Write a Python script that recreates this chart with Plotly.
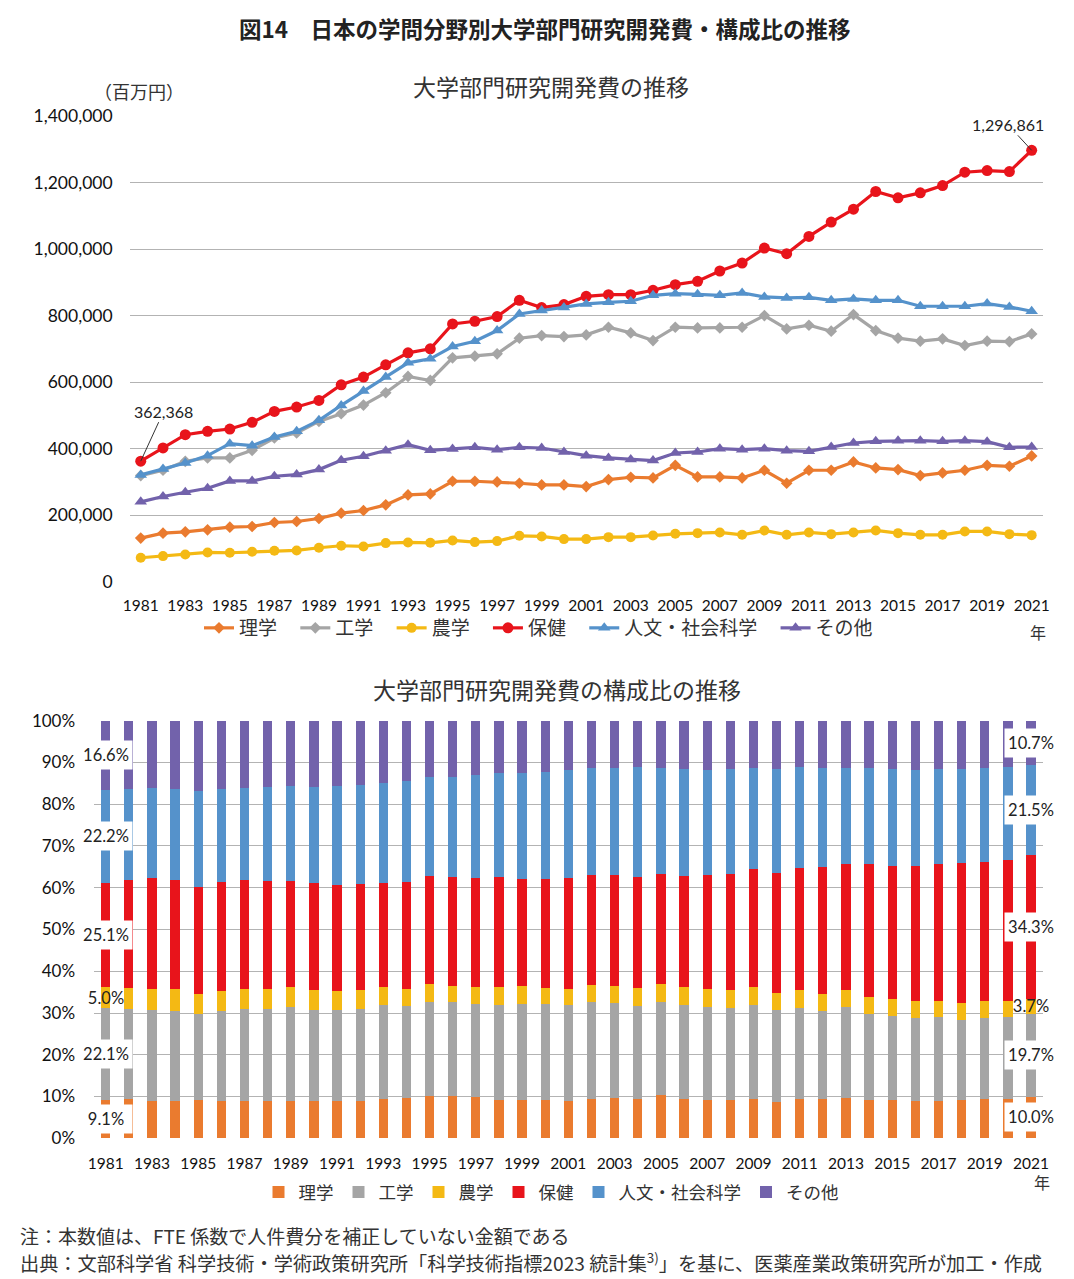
import plotly.graph_objects as go

years = list(range(1981, 2022))

rigaku = [131000, 146000, 150000, 156000, 164000, 166000, 178000, 181000, 190000, 206000,
          214000, 231000, 261000, 264000, 302000, 302000, 300000, 296000, 291000, 291000,
          286000, 307000, 314000, 312000, 350000, 315000, 315000, 312000, 335000, 296000,
          335000, 335000, 360000, 342000, 337000, 319000, 327000, 335000, 350000, 347000, 378000]
kougaku = [319000, 335000, 362000, 372000, 372000, 395000, 432000, 447000, 482000, 505000,
           531000, 568000, 617000, 605000, 673000, 678000, 685000, 732000, 740000, 737000,
           742000, 765000, 748000, 725000, 765000, 763000, 763000, 765000, 800000, 760000,
           771000, 753000, 803000, 755000, 732000, 723000, 730000, 710000, 723000, 722000, 745000]
nougaku = [72000, 77000, 82000, 88000, 87000, 90000, 93000, 94000, 102000, 108000,
           106000, 116000, 118000, 117000, 124000, 119000, 122000, 138000, 136000, 128000,
           128000, 134000, 134000, 139000, 144000, 146000, 148000, 141000, 154000, 141000,
           148000, 143000, 148000, 154000, 146000, 141000, 141000, 151000, 151000, 143000, 140000]
hoken = [362368, 402000, 442000, 452000, 459000, 479000, 512000, 525000, 545000, 592000,
         615000, 652000, 688000, 700000, 775000, 783000, 797000, 846000, 824000, 833000,
         858000, 863000, 863000, 876000, 893000, 903000, 934000, 958000, 1003000, 986000,
         1038000, 1081000, 1120000, 1173000, 1154000, 1169000, 1191000, 1231000, 1236000, 1233000, 1296861]
jinbun = [321000, 339000, 357000, 379000, 415000, 409000, 435000, 452000, 485000, 530000,
          573000, 615000, 658000, 670000, 707000, 723000, 755000, 805000, 815000, 824000,
          835000, 840000, 843000, 861000, 866000, 864000, 861000, 868000, 856000, 853000,
          855000, 846000, 850000, 846000, 846000, 828000, 828000, 828000, 836000, 826000, 813000]
sonota = [240000, 256000, 269000, 281000, 303000, 303000, 317000, 322000, 337000, 365000,
          377000, 394000, 412000, 395000, 399000, 404000, 397000, 404000, 402000, 390000,
          379000, 372000, 367000, 364000, 387000, 390000, 400000, 397000, 400000, 394000,
          392000, 405000, 417000, 422000, 424000, 424000, 422000, 424000, 421000, 404000, 405000]

names = ["理学", "工学", "農学", "保健", "人文・社会科学", "その他"]
series = [rigaku, kougaku, nougaku, hoken, jinbun, sonota]
colors = ["#EA7B2F", "#A5A5A5", "#F4B914", "#E8141B", "#5592CB", "#7262AB"]
symbols = ["diamond", "diamond", "circle", "circle", "triangle-up", "triangle-up"]
msizes = [9, 9, 10, 11, 11, 11]

ytick_top = [0, 200000, 400000, 600000, 800000, 1000000, 1200000, 1400000]
xtick_years = list(range(1981, 2022, 2))

NUM = "Lato, 'Noto Sans CJK JP', sans-serif"
JP = "'Noto Sans CJK JP', sans-serif"
W, H = 1074, 1279
PAD = "\u2002\u2009"

def px_x(x):
    return x / W

def px_y(y):
    return 1 - y / H

fig = go.Figure()

for n, s, c, sym, ms in zip(names, series, colors, symbols, msizes):
    fig.add_trace(go.Scatter(
        x=years, y=s, name=n + PAD, mode="lines+markers",
        line=dict(color=c, width=3.2),
        marker=dict(color=c, symbol=sym, size=ms, line=dict(width=0)),
        xaxis="x", yaxis="y", legend="legend"))

for n, s, c in zip(names, series, colors):
    fig.add_trace(go.Bar(
        x=years, y=s, name=n, marker=dict(color=c, line=dict(width=0)),
        xaxis="x2", yaxis="y2", legend="legend2"))

axis_common = dict(showline=False, zeroline=False, automargin=False, fixedrange=True)

fig.update_layout(
    width=W, height=H,
    margin=dict(l=0, r=0, t=0, b=0),
    paper_bgcolor="white", plot_bgcolor="white",
    barmode="stack", barnorm="percent", bargap=0.6,
    font=dict(family=NUM, color="#1a1a1a"),
    xaxis=dict(domain=[px_x(129.6), px_x(1042.8)], anchor="y", range=[1980.5, 2021.5],
               tickvals=xtick_years, ticktext=[str(v) for v in xtick_years],
               showgrid=False, ticks="", ticklabelstandoff=13,
               tickfont=dict(size=15.5, family=NUM, color="#111111"), **axis_common),
    yaxis=dict(domain=[px_y(581.7), px_y(116)], anchor="x", range=[0, 1400000],
               tickvals=ytick_top, tickformat=",d", showgrid=True, gridcolor="#B3B3B3",
               gridwidth=1, ticks="", ticklabelstandoff=16,
               tickfont=dict(size=17.5, family=NUM, color="#111111"), **axis_common),
    xaxis2=dict(domain=[px_x(94.1), px_x(1042.6)], anchor="y2", range=[1980.5, 2021.5],
                tickvals=xtick_years, ticktext=[str(v) for v in xtick_years],
                showgrid=False, ticks="", ticklabelstandoff=14,
                tickfont=dict(size=15.5, family=NUM, color="#111111"), **axis_common),
    yaxis2=dict(domain=[px_y(1138.3), px_y(720.7)], anchor="x2", range=[0, 100],
                dtick=10, ticksuffix="%", showgrid=True, gridcolor="#B3B3B3",
                gridwidth=1, ticks="", ticklabelstandoff=18,
                tickfont=dict(size=17, family=NUM, color="#111111"), **axis_common),
    legend=dict(orientation="h", xanchor="center", yanchor="middle",
                x=px_x(545), y=px_y(628), font=dict(size=19, family=JP, color="#333333"),
                itemwidth=30, tracegroupgap=0, bgcolor="rgba(0,0,0,0)"),
    legend2=dict(orientation="h", xanchor="center", yanchor="middle",
                 x=px_x(551), y=px_y(1192), font=dict(size=17.5, family=JP, color="#333333"),
                 itemwidth=30, traceorder="normal", bgcolor="rgba(0,0,0,0)"),
    showlegend=True,
)

def note(text, x, y, size, color="#333333", xanchor="center", family=JP):
    return dict(text=text, x=px_x(x), y=px_y(y), xref="paper", yref="paper",
                xanchor=xanchor, yanchor="middle", showarrow=False,
                font=dict(size=size, family=family, color=color))

ann = []
ann.append(note("<b>図14　日本の学問分野別大学部門研究開発費・構成比の推移</b>", 545, 28, 22.5, "#222222"))
ann.append(note("大学部門研究開発費の推移", 551, 86, 23))
ann.append(note("（百万円）", 139, 91, 18))
ann.append(note("大学部門研究開発費の構成比の推移", 557, 689, 23))
ann.append(note("年", 1038, 632, 16))
ann.append(note("年", 1042, 1182, 16))
ann.append(note("注：本数値は、FTE 係数で人件費分を補正していない金額である", 18, 1235, 19, xanchor="left"))
ann.append(note("出典：文部科学省 科学技術・学術政策研究所「科学技術指標2023 統計集<sup>3)</sup>」を基に、医薬産業政策研究所が加工・作成",
                18, 1262, 19.2, xanchor="left"))

# value callouts on the line chart
ann.append(dict(text=f"{hoken[0]:,}", x=years[0], y=hoken[0], xref="x", yref="y",
                showarrow=True, arrowhead=0, arrowwidth=1, arrowcolor="#333333",
                ax=23, ay=-50, font=dict(size=16, family=NUM, color="#222222")))
ann.append(dict(text=f"{hoken[-1]:,}", x=years[-1], y=hoken[-1], xref="x", yref="y",
                showarrow=True, arrowhead=0, arrowwidth=1, arrowcolor="#333333",
                ax=-24, ay=-26, font=dict(size=16, family=NUM, color="#222222")))

# percentage labels on first and last bars
for idx in (0, len(years) - 1):
    total = sum(s[idx] for s in series)
    cum = 0.0
    for k, s in enumerate(series):
        pct = s[idx] / total * 100
        mid = cum + pct / 2
        cum += pct
        small = pct < 8
        ann.append(dict(text=f"{pct:.1f}%", x=years[idx], y=mid, xref="x2", yref="y2",
                        xanchor="center", yanchor="middle",
                        showarrow=False, width=48, height=24, borderpad=2,
                        bgcolor="rgba(0,0,0,0)" if small else "white",
                        font=dict(size=16.5, family=NUM, color="#222222")))

fig.update_layout(annotations=ann)

fig.write_html("out.html", config={"displayModeBar": False},
               post_script="document.body.style.margin='0px';document.body.style.overflow='hidden';")
